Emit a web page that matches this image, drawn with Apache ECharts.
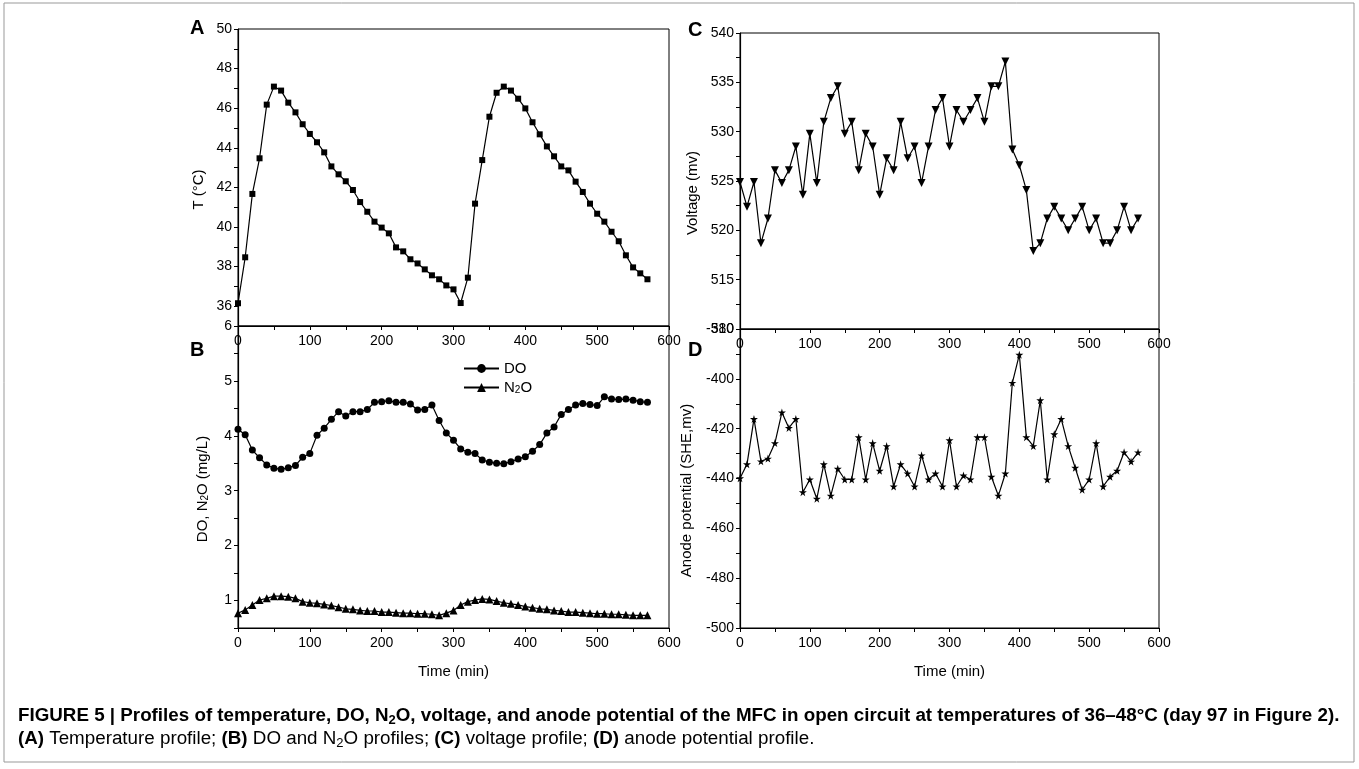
<!DOCTYPE html>
<html lang="en">
<head>
<meta charset="UTF-8">
<title>Figure 5</title>
<script src="https://cdn.jsdelivr.net/npm/echarts@6/dist/echarts.min.js"></script>
<style>
  html, body { margin: 0; padding: 0; background: #fff; }
  #main { width: 1359px; height: 769px; }
</style>
</head>
<body>
<div id="main"></div>
<script>
// time in minutes (same sampling for all four panels)
var time = [0, 10, 20, 30, 40, 50, 60, 70, 80, 90,
    100, 110, 120, 130, 140, 150, 160, 170, 180, 190,
    200, 210, 220, 230, 240, 250, 260, 270, 280, 290,
    300, 310, 320, 330, 340, 350, 360, 370, 380, 390,
    400, 410, 420, 430, 440, 450, 460, 470, 480, 490,
    500, 510, 520, 530, 540, 550, 560, 570];

// (A) temperature, degC
var temp = [36.15, 38.47, 41.67, 43.47, 46.18, 47.09, 46.89, 46.28, 45.79, 45.19,
    44.70, 44.28, 43.77, 43.06, 42.66, 42.31, 41.87, 41.26, 40.77, 40.27,
    39.97, 39.68, 38.97, 38.77, 38.37, 38.16, 37.86, 37.56, 37.36, 37.05,
    36.85, 36.16, 37.44, 41.18, 43.38, 45.57, 46.78, 47.09, 46.89, 46.48,
    45.99, 45.29, 44.68, 44.07, 43.57, 43.06, 42.86, 42.29, 41.77, 41.18,
    40.67, 40.27, 39.76, 39.28, 38.57, 37.96, 37.66, 37.36];

// (B) DO and N2O, mg/L
var dox = [4.12, 4.02, 3.74, 3.60, 3.47, 3.41, 3.39, 3.42, 3.46, 3.61,
    3.68, 4.01, 4.14, 4.30, 4.44, 4.36, 4.44, 4.44, 4.48, 4.61,
    4.62, 4.64, 4.61, 4.61, 4.58, 4.47, 4.48, 4.56, 4.28, 4.05,
    3.92, 3.76, 3.70, 3.68, 3.56, 3.52, 3.50, 3.49, 3.53, 3.58,
    3.62, 3.72, 3.84, 4.05, 4.16, 4.39, 4.48, 4.56, 4.59, 4.57,
    4.55, 4.71, 4.67, 4.66, 4.67, 4.65, 4.62, 4.61];
var n2o = [0.77, 0.83, 0.92, 1.01, 1.04, 1.08, 1.08, 1.07, 1.04, 0.98,
    0.96, 0.95, 0.93, 0.91, 0.88, 0.85, 0.84, 0.82, 0.81, 0.81,
    0.79, 0.79, 0.78, 0.77, 0.77, 0.76, 0.76, 0.75, 0.73, 0.77,
    0.82, 0.92, 0.98, 1.01, 1.03, 1.02, 0.99, 0.96, 0.94, 0.92,
    0.89, 0.87, 0.85, 0.84, 0.82, 0.81, 0.79, 0.79, 0.78, 0.77,
    0.76, 0.76, 0.75, 0.75, 0.74, 0.73, 0.73, 0.73];

// (C) voltage, mV
var voltage = [524.9, 522.4, 524.9, 518.7, 521.2, 526.1, 524.8, 526.1, 528.5, 523.6,
    529.8, 524.8, 531.0, 533.4, 534.6, 529.8, 531.0, 526.1, 529.8, 528.5,
    523.6, 527.3, 526.1, 531.0, 527.3, 528.5, 524.8, 528.5, 532.2, 533.4,
    528.5, 532.2, 531.0, 532.2, 533.4, 531.0, 534.6, 534.6, 537.1, 528.2,
    526.6, 524.1, 517.9, 518.7, 521.2, 522.4, 521.2, 520.0, 521.2, 522.4,
    520.0, 521.2, 518.7, 518.7, 520.0, 522.4, 520.0, 521.2];

// (D) anode potential, mV vs SHE
var anode = [-439.9, -434.3, -416.1, -433.1, -432.0, -425.8, -413.5, -419.7, -416.1, -445.5,
    -440.4, -448.1, -434.3, -446.9, -436.1, -440.4, -440.4, -423.4, -440.4, -425.8,
    -436.9, -427.0, -443.2, -434.3, -438.0, -443.2, -430.7, -440.4, -438.0, -443.2,
    -424.6, -443.2, -438.8, -440.4, -423.4, -423.4, -439.3, -446.9, -438.0, -401.6,
    -390.3, -423.4, -427.0, -408.6, -440.4, -422.2, -416.1, -427.0, -435.7, -444.5,
    -440.4, -425.8, -443.2, -439.3, -436.9, -429.5, -433.2, -429.5];

var FONT = 'Liberation Sans, Arial, Helvetica, sans-serif';
var starPath = 'path://M50,0 L61,35 L98,35 L68,57 L79,91 L50,70 L21,91 L32,57 L2,35 L39,35 Z';

function pairs(ys) {
    return time.map(function (t, i) { return [t, ys[i]]; });
}

var subRich = { sub: { fontSize: 10, lineHeight: 6, verticalAlign: 'bottom', fontFamily: FONT, color: '#000' } };

function xAxis(gi, name) {
    return {
        type: 'value', gridIndex: gi, min: 0, max: 600, interval: 50,
        name: name || '', nameLocation: 'middle', nameGap: 36,
        nameTextStyle: { fontFamily: FONT, fontSize: 15, color: '#000' },
        axisLine: { show: true, onZero: false, lineStyle: { color: '#000', width: 1.2 } },
        axisTick: { show: true, length: 4, lineStyle: { color: '#000' } },
        axisLabel: {
            fontFamily: FONT, fontSize: 14, color: '#000', margin: 8,
            showMinLabel: true, showMaxLabel: true,
            formatter: function (v) { return v % 100 === 0 ? String(v) : ''; }
        },
        splitLine: { show: false }
    };
}

function yAxis(gi, min, max, step, every, name, gap) {
    return {
        type: 'value', gridIndex: gi, min: min, max: max, interval: step,
        name: name, nameLocation: 'middle', nameGap: gap,
        nameTextStyle: { fontFamily: FONT, fontSize: 15, color: '#000', padding: [0, 24, 0, 0], rich: subRich },
        axisLine: { show: true, onZero: false, lineStyle: { color: '#000', width: 1.2 } },
        axisTick: { show: true, length: 4, lineStyle: { color: '#000' } },
        axisLabel: {
            fontFamily: FONT, fontSize: 14, color: '#000', margin: 6,
            showMinLabel: true, showMaxLabel: true,
            formatter: function (v) {
                var r = Math.round(v * 100) % Math.round(every * 100);
                return r === 0 ? String(v) : '';
            }
        },
        splitLine: { show: false }
    };
}

function gridBox(left, top, width, height) {
    return { left: left, top: top, width: width, height: height, show: true,
        borderColor: '#000', borderWidth: 1, backgroundColor: 'transparent', outerBoundsMode: 'none' };
}

function letter(txt, x, y) {
    return { type: 'text', left: x, top: y,
        style: { text: txt, fontFamily: FONT, fontSize: 20, fontWeight: 'bold', fill: '#000' } };
}

var capRich = {
    b: { fontFamily: FONT, fontSize: 18.8, fontWeight: 'bold', lineHeight: 22, color: '#231f20' },
    bs: { fontFamily: FONT, fontSize: 13, fontWeight: 'bold', lineHeight: 9, verticalAlign: 'bottom', color: '#231f20' },
    r: { fontFamily: FONT, fontSize: 18.8, lineHeight: 22, color: '#231f20' },
    rs: { fontFamily: FONT, fontSize: 13, lineHeight: 9, verticalAlign: 'bottom', color: '#231f20' }
};

var option = {
    backgroundColor: '#fff',
    animation: false,
    grid: [
        gridBox(238, 29, 431, 297),
        gridBox(238, 326, 431, 302),
        gridBox(740, 33, 419, 296),
        gridBox(740, 329, 419, 299)
    ],
    xAxis: [xAxis(0), xAxis(1, 'Time (min)'), xAxis(2), xAxis(3, 'Time (min)')],
    yAxis: [
        yAxis(0, 35, 50, 1, 2, 'T (°C)', 32),
        yAxis(1, 0.5, 6, 0.5, 1, 'DO, N{sub|2}O (mg/L)', 28),
        yAxis(2, 510, 540, 2.5, 5, 'Voltage (mv)', 40),
        yAxis(3, -500, -380, 10, 20, 'Anode potential (SHE,mv)', 46)
    ],
    legend: {
        data: ['DO', 'N2O'], orient: 'vertical', left: 458, top: 356,
        itemWidth: 35, itemHeight: 11, itemGap: 4,
        textStyle: { fontFamily: FONT, fontSize: 15, color: '#000', rich: subRich },
        formatter: function (n) { return n === 'N2O' ? 'N{sub|2}O' : n; }
    },
    series: [
        { name: 'T', type: 'line', xAxisIndex: 0, yAxisIndex: 0, data: pairs(temp),
          symbol: 'rect', symbolSize: 6, itemStyle: { color: '#000' }, lineStyle: { color: '#000', width: 1.2 } },
        { name: 'DO', type: 'line', xAxisIndex: 1, yAxisIndex: 1, data: pairs(dox),
          symbol: 'circle', symbolSize: 7, itemStyle: { color: '#000' }, lineStyle: { color: '#000', width: 1.2 } },
        { name: 'N2O', type: 'line', xAxisIndex: 1, yAxisIndex: 1, data: pairs(n2o),
          symbol: 'triangle', symbolSize: 8, itemStyle: { color: '#000' }, lineStyle: { color: '#000', width: 1.2 } },
        { name: 'Voltage', type: 'line', xAxisIndex: 2, yAxisIndex: 2, data: pairs(voltage),
          symbol: 'triangle', symbolRotate: 180, symbolSize: 8, itemStyle: { color: '#000' }, lineStyle: { color: '#000', width: 1.2 } },
        { name: 'Anode', type: 'line', xAxisIndex: 3, yAxisIndex: 3, data: pairs(anode),
          symbol: starPath, symbolSize: 8, itemStyle: { color: '#000' }, lineStyle: { color: '#000', width: 1.2 } }
    ],
    graphic: [
        { type: 'rect', shape: { x: 4, y: 3, width: 1350, height: 759 },
          style: { fill: 'none', stroke: '#999', lineWidth: 1 }, silent: true },
        letter('A', 190, 18),
        letter('B', 190, 340),
        letter('C', 688, 20),
        letter('D', 688, 340),
        { type: 'text', left: 18, top: 706,
          style: { text: '{b|FIGURE 5 | Profiles of temperature, DO, N}{bs|2}{b|O, voltage, and anode potential of the MFC in open circuit at temperatures of 36–48°C (day 97 in Figure 2).}',
                   rich: capRich } },
        { type: 'text', left: 18, top: 729,
          style: { text: '{b|(A)}{r| Temperature profile; }{b|(B)}{r| DO and N}{rs|2}{r|O profiles; }{b|(C)}{r| voltage profile; }{b|(D)}{r| anode potential profile.}',
                   rich: capRich } }
    ]
};

var chart = echarts.init(document.getElementById('main'));
chart.setOption(option);
</script>
</body>
</html>
